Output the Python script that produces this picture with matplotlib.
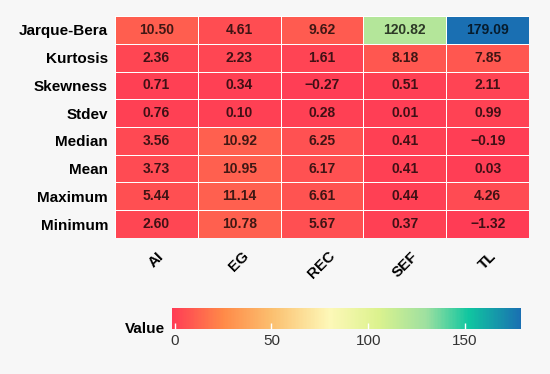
import numpy as np
import matplotlib.pyplot as plt
from matplotlib.colors import LinearSegmentedColormap, Normalize

plt.rcParams["font.family"] = ["Liberation Sans", "DejaVu Sans"]

variables = ["AI", "EG", "REC", "SEF", "TL"]
stats = ["Jarque-Bera", "Kurtosis", "Skewness", "Stdev", "Median", "Mean", "Maximum", "Minimum"]

ai = [10.50, 2.36, 0.71, 0.76, 3.56, 3.73, 5.44, 2.60]
eg = [4.61, 2.23, 0.34, 0.10, 10.92, 10.95, 11.14, 10.78]
rec = [9.62, 1.61, -0.27, 0.28, 6.25, 6.17, 6.61, 5.67]
sef = [120.82, 8.18, 0.51, 0.01, 0.41, 0.41, 0.44, 0.37]
tl = [179.09, 7.85, 2.11, 0.99, -0.19, 0.03, 4.26, -1.32]

cbar_ticks = [0, 50, 100, 150]

values = np.array([ai, eg, rec, sef, tl]).T  # rows = stats, cols = variables

vmin, vmax = values.min(), values.max()
# colour stops (value -> colour)
stops = [(vmin, "#ff3c55"), (25, "#ff8a48"), (50, "#fbbf6f"), (80, "#fdf8b8"),
         (105, "#dcf28e"), (130, "#9ee0a0"), (152, "#10c6a0"), (vmax, "#1a6fb2")]
cmap = LinearSegmentedColormap.from_list(
    "val", [((v - vmin) / (vmax - vmin), c) for v, c in stops])
norm = Normalize(vmin, vmax)

bg = "#f7f7f7"
fig = plt.figure(figsize=(5.5, 3.74), dpi=100)
fig.patch.set_facecolor(bg)

ax = fig.add_axes([0.209, 0.364, 0.753, 0.593])
ax.set_facecolor(bg)
ax.pcolormesh(values, cmap=cmap, norm=norm, edgecolor="white", linewidth=0.5)
ax.set_xlim(0, len(variables))
ax.set_ylim(len(stats), 0)

for i in range(len(stats)):
    for j in range(len(variables)):
        txt = f"{values[i, j]:.2f}".replace("-", "\u2212")
        ax.text(j + 0.5, i + 0.5, txt, ha="center", va="center",
                fontsize=10, fontweight="bold", color="black", alpha=0.75)

ax.set_xticks(np.arange(len(variables)) + 0.5)
ax.set_xticklabels(variables, rotation=45, ha="center", fontweight="bold", fontsize=11)
ax.set_yticks(np.arange(len(stats)) + 0.5)
ax.set_yticklabels(stats, fontweight="bold", fontsize=11)
ax.tick_params(axis="y", length=0, pad=5)
ax.tick_params(axis="x", length=0, pad=8)
for s in ax.spines.values():
    s.set_visible(False)

cax = fig.add_axes([0.313, 0.120, 0.635, 0.056])
sm = plt.cm.ScalarMappable(norm=norm, cmap=cmap)
cb = fig.colorbar(sm, cax=cax, orientation="horizontal", ticks=cbar_ticks)
cb.outline.set_visible(False)
cax.tick_params(axis="x", direction="in", length=4, color="white", width=1,
                labelsize=11, labelcolor="#333333")
cax.set_ylabel("Value", rotation=0, fontweight="bold", fontsize=11,
               ha="right", va="center", labelpad=6)
cax.yaxis.set_label_coords(-0.02, 0.0)

fig.savefig("out.png", dpi=100, facecolor=bg)
